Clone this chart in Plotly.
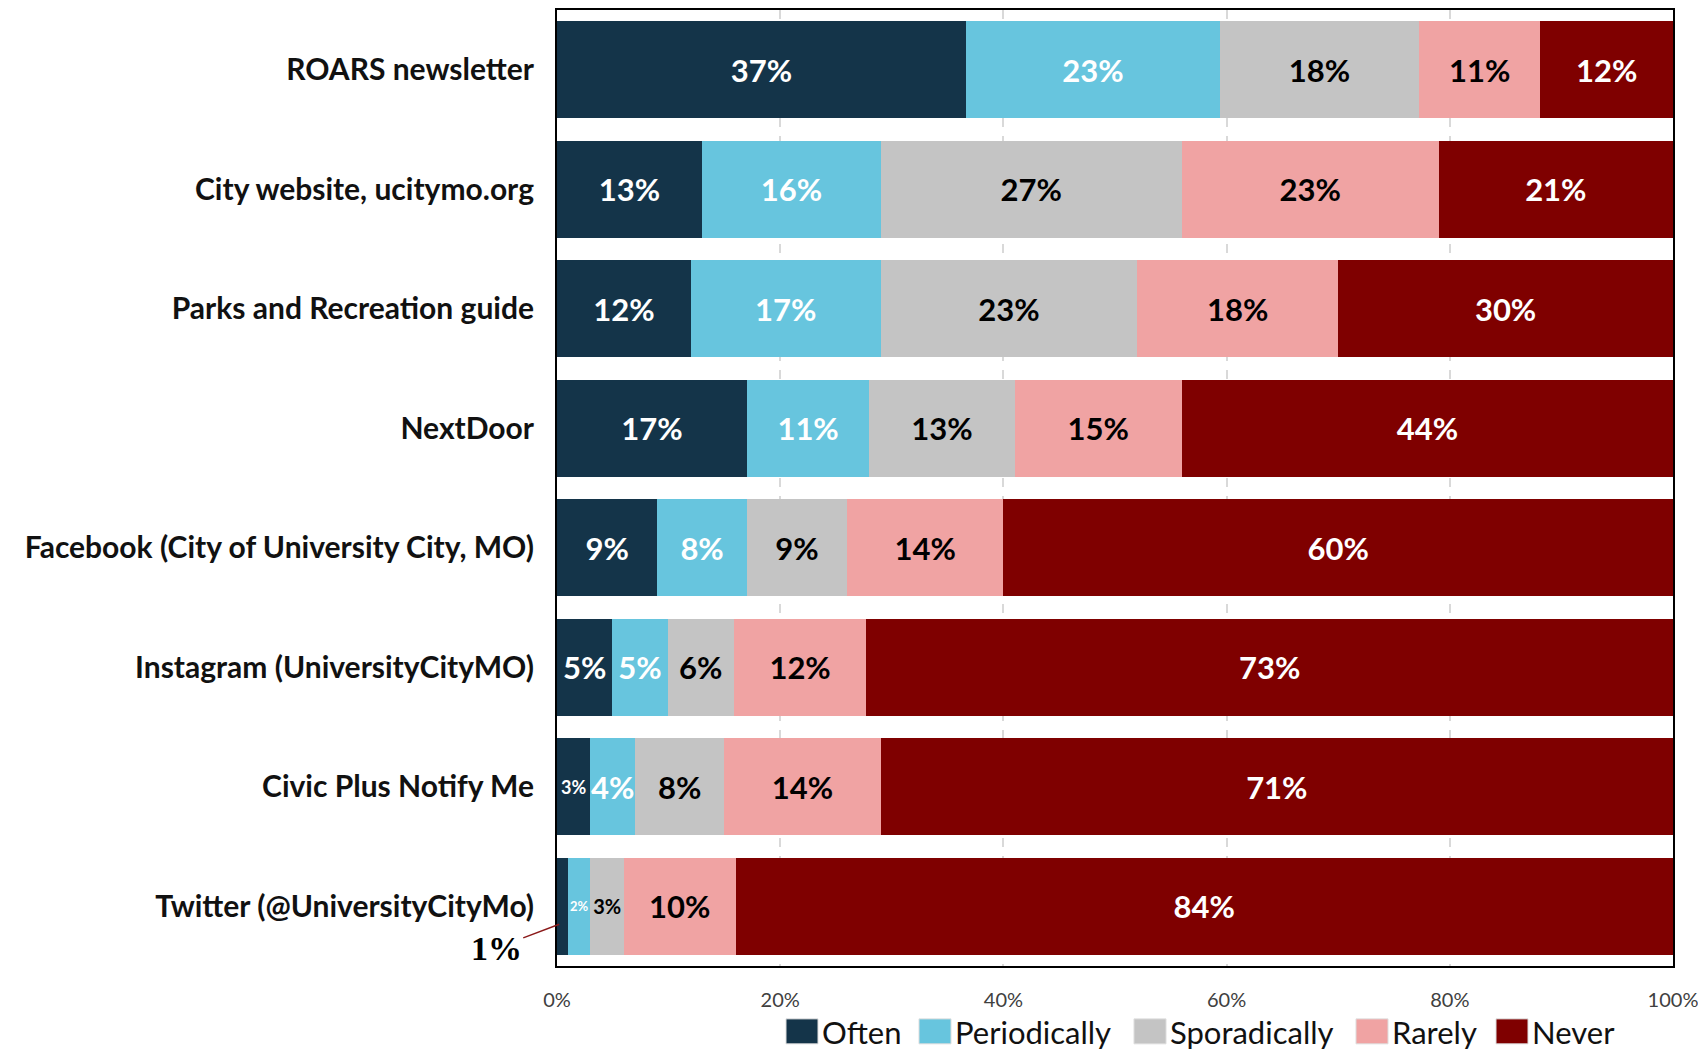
import plotly.graph_objects as go

categories = [
    "ROARS newsletter",
    "City website, ucitymo.org",
    "Parks and Recreation guide",
    "NextDoor",
    "Facebook (City of University City, MO)",
    "Instagram (UniversityCityMO)",
    "Civic Plus Notify Me",
    "Twitter (@UniversityCityMo)",
]
series_names = ["Often", "Periodically", "Sporadically", "Rarely", "Never"]
often        = [37, 13, 12, 17, 9, 5, 3, 1]
periodically = [23, 16, 17, 11, 8, 5, 4, 2]
sporadically = [18, 27, 23, 13, 9, 6, 8, 3]
rarely       = [11, 23, 18, 15, 14, 12, 14, 10]
never        = [12, 21, 30, 44, 60, 73, 71, 84]
tick_vals = [0, 20, 40, 60, 80, 100]
tick_text = ["0%", "20%", "40%", "60%", "80%", "100%"]

series_values = [often, periodically, sporadically, rarely, never]
colors = ["#143449", "#67C5DE", "#C4C4C4", "#F0A3A3", "#7F0000"]
text_colors = ["white", "white", "black", "black", "white"]

# per-label size overrides (series index, category index) -> font size
size_override = {(0, 6): 18, (1, 7): 13, (2, 7): 20}
hidden_label = {(0, 7)}  # shown outside with leader line

fig = go.Figure()
for si, (name, vals) in enumerate(zip(series_names, series_values)):
    texts, sizes = [], []
    for ci, v in enumerate(vals):
        texts.append("" if (si, ci) in hidden_label else f"{v}%")
        sizes.append(size_override.get((si, ci), 31))
    fig.add_trace(go.Bar(
        name=name, y=categories, x=vals, orientation="h",
        marker=dict(color=colors[si], line=dict(width=0)),
        text=texts, texttemplate="%{text}",
        textposition="inside", insidetextanchor="middle",
        constraintext="none", textangle=0,
        textfont=dict(family="Lato", size=sizes, color=text_colors[si], weight="bold"),
        showlegend=False, hoverinfo="x+y+name",
    ))

# page body has an 8px margin; work in window pixels and compensate
OFF = 8
L, R, T, B = 557, 1673, 8, 966
W, H = 1706 - OFF, 1051 - OFF
pw, ph = R - L, B - T

def px(xp):
    return (xp - L) / pw

def py(yp):
    return (B - yp) / ph

fig.update_layout(
    width=W, height=H,
    margin=dict(l=L - OFF, r=(W + OFF) - R, t=T - OFF, b=(H + OFF) - B, pad=0),
    barmode="stack", barnorm="percent", bargap=0.19,
    plot_bgcolor="white", paper_bgcolor="white",
    font=dict(family="Lato", color="#111111"),
)
fig.update_xaxes(
    range=[0, 100], tickvals=tick_vals, ticktext=tick_text,
    tickfont=dict(family="Lato", size=20, color="#404040"),
    showgrid=True, gridcolor="#D9D9D9", gridwidth=2, griddash="dash",
    showline=True, linecolor="black", linewidth=2, mirror=True,
    ticks="", ticklabelstandoff=15, zeroline=False, fixedrange=True,
)
fig.update_yaxes(
    categoryorder="array", categoryarray=categories, autorange="reversed",
    tickfont=dict(family="Lato", size=30, color="#111111", weight="bold"),
    showline=True, linecolor="black", linewidth=2, mirror=True,
    ticks="", ticklabelstandoff=15, showgrid=False, fixedrange=True,
)

# leader-line label for the 1% segment
fig.add_annotation(
    x=0.2, y=7.15, xref="x", yref="y", text=f"{often[7]}%",
    showarrow=True, arrowhead=0, arrowwidth=1.5, arrowcolor="#8B1A1A",
    ax=-63, ay=24, standoff=0,
    font=dict(family="Liberation Serif", size=34, color="black", weight="bold"),
)

# manual legend
swatch_left = [786, 919, 1134, 1356, 1496]
for i, name in enumerate(series_names):
    x0 = swatch_left[i]
    fig.add_shape(type="rect", xref="paper", yref="paper",
                  x0=px(x0), x1=px(x0 + 32), y0=py(1044), y1=py(1019),
                  fillcolor=colors[i], line=dict(color="#DDDDDD", width=1))
    fig.add_annotation(xref="paper", yref="paper", x=px(x0 + 34), y=py(1032),
                       xanchor="left", yanchor="middle", showarrow=False,
                       text=name, font=dict(family="Lato", size=31, color="#111111"))

fig.write_html("out.html")
